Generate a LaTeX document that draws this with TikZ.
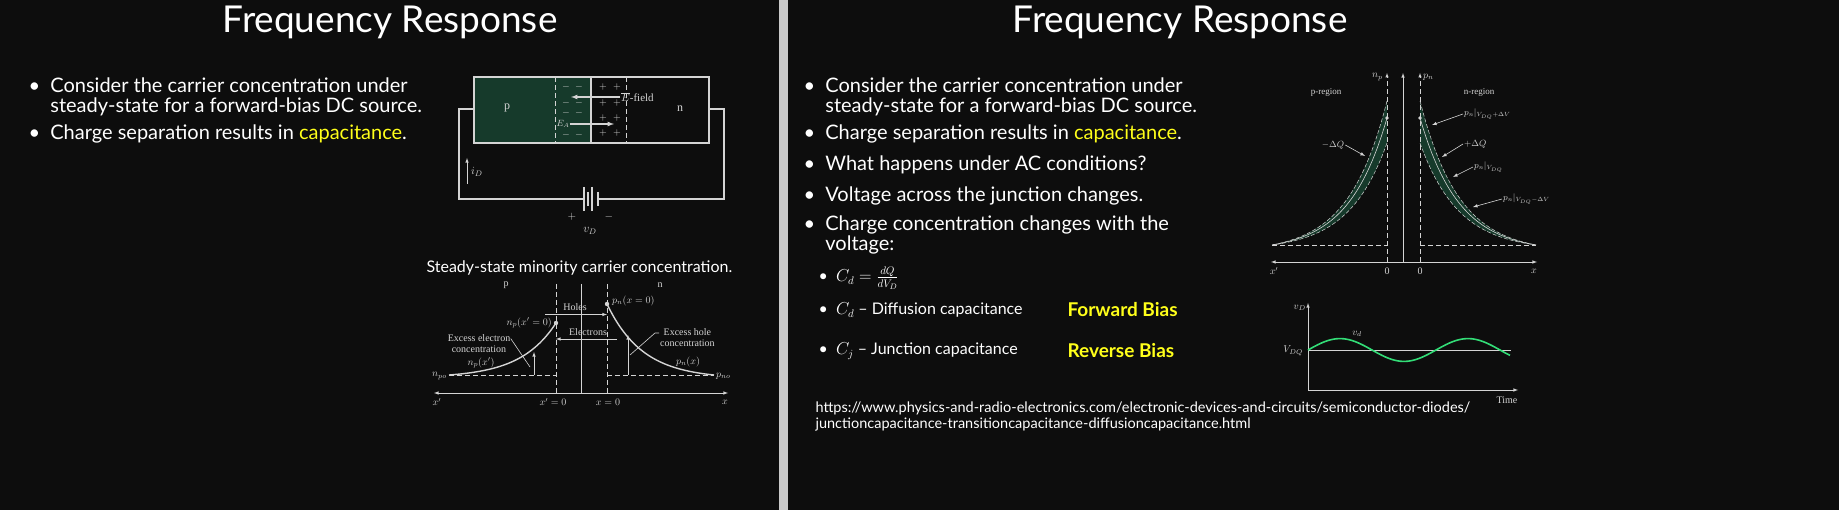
\documentclass[tikz,border=0pt]{standalone}
\usepackage{fontspec}
\setmainfont{Lato}
\newfontfamily\figfont{Liberation Serif}
\usepackage{amsmath}
\definecolor{slidebg}{HTML}{0D0D0D}
\definecolor{figline}{HTML}{D4D4D4}
\definecolor{pgreen}{HTML}{163A2B}
\definecolor{hilite}{HTML}{FFFF1A}
\definecolor{sinegreen}{HTML}{33DD77}
\tikzset{
  title/.style={text=white,font=\fontsize{37}{40}\selectfont},
  bullet/.style={text=white,anchor=west,align=left,font=\fontsize{20}{20}\selectfont},
  sub/.style={text=white,anchor=west,font=\fontsize{16}{18}\selectfont},
  lbl/.style={text=figline,font=\figfont\fontsize{10}{11}\selectfont,inner sep=1pt},
  wire/.style={draw=figline,line width=1.2pt},
  thin/.style={draw=figline,line width=0.6pt},
  dashln/.style={draw=figline,line width=0.7pt,dash pattern=on 5pt off 3pt},
  tip/.style={-latex},
}
\begin{document}
\begin{tikzpicture}[x=1pt,y=-1pt]
\fill[slidebg] (0,0) rectangle (1839,510);
\useasboundingbox (0,0) rectangle (1839,510);
\fill[figline!95!black] (779,0) rectangle (788,510);

% titles
\node[title] (titleL) at (390,22) {Frequency Response};
\node[title] (titleR) at (1180,22) {Frequency Response};

% left bullets
\node[bullet] (bL1) at (25,97) {\textbullet\ \ Consider the carrier concentration under\\\phantom{\textbullet\ \ }steady-state for a forward-bias DC source.};
\node[bullet] (bL2) at (25,134) {\textbullet\ \ Charge separation results in \textcolor{hilite}{capacitance}.};

% right bullets
\node[bullet] (bR1) at (800,97) {\textbullet\ \ Consider the carrier concentration under\\\phantom{\textbullet\ \ }steady-state for a forward-bias DC source.};
\node[bullet] (bR2) at (800,134) {\textbullet\ \ Charge separation results in \textcolor{hilite}{capacitance}.};
\node[bullet] (bR3) at (800,165) {\textbullet\ \ What happens under AC conditions?};
\node[bullet] (bR4) at (800,196) {\textbullet\ \ Voltage across the junction changes.};
\node[bullet] (bR5) at (800,235) {\textbullet\ \ Charge concentration changes with the\\\phantom{\textbullet\ \ }voltage:};
\node[sub] (sR1) at (815,278) {\textbullet\ \ $C_d=\frac{dQ}{dV_D}$};
\node[sub] (sR2) at (815,310) {\textbullet\ \ $C_d$ -- Diffusion capacitance};
\node[sub] (sR3) at (815,351) {\textbullet\ \ $C_j$ -- Junction capacitance};
\node[sub,text=hilite,font=\bfseries\fontsize{19}{21}\selectfont] (fwd) at (1064,310) {Forward Bias};
\node[sub,text=hilite,font=\bfseries\fontsize{19}{21}\selectfont] (rev) at (1064,351) {Reverse Bias};
\node[text=white,anchor=west,align=left,font=\fontsize{14.5}{16}\selectfont] (url) at (812,416)
  {https://www.physics-and-radio-electronics.com/electronic-devices-and-circuits/semiconductor-diodes/\\
   junctioncapacitance-transitioncapacitance-diffusioncapacitance.html};

% pn junction circuit
\fill[pgreen] (474,77) rectangle (591,143);
\draw[wire] (474,77) rectangle (709,143);
\draw[wire] (591,77) -- (591,143);
\draw[dashln,line width=0.6pt] (555,77) -- (555,143) (626,77) -- (626,143);
\foreach \yy in {87,103,113,135} {
  \node[lbl,inner sep=0pt] at (566,\yy) {$-$};
  \node[lbl,inner sep=0pt] at (579,\yy) {$-$};
}
\foreach \yy in {87,103,118,133} {
  \node[lbl,inner sep=0pt] at (603,\yy) {$+$};
  \node[lbl,inner sep=0pt] at (617,\yy) {$+$};
}
\node[lbl,font=\figfont\fontsize{12}{13}\selectfont] (pReg) at (507,108) {p};
\node[lbl,font=\figfont\fontsize{12}{13}\selectfont] (nReg) at (680,109) {n};
\node[lbl,anchor=west,font=\figfont\fontsize{11}{12}\selectfont] (efield) at (620,97) {$\overline{E}$-field};
\node[lbl,font=\figfont\fontsize{9}{10}\selectfont,inner sep=0pt] (EA) at (563,124) {$E_A$};
\draw[wire,tip] (efield.west) -- (571,97);
\draw[wire,tip] (EA.east) -- (614,124);
\coordinate (wL) at (474,109);
\coordinate (wR) at (709,109);
\draw[wire] (wL) -- (459,109) -- (459,199) -- (584,199);
\draw[wire] (598,199) -- (724,199) -- (724,109) -- (wR);
\draw[wire] (584,187) -- (584,211) (588,192) -- (588,206) (592,187) -- (592,211) (598,192) -- (598,206);
\coordinate (iA) at (467,184);
\coordinate (iB) at (467,158);
\draw[thin,tip] (iA) -- (iB);
\node[lbl,anchor=west,font=\figfont\fontsize{11}{12}\selectfont] (iD) at (470,172) {$i_D$};
\node[lbl,font=\figfont\fontsize{11}{12}\selectfont] (plus) at (572,217) {$+$};
\node[lbl,font=\figfont\fontsize{11}{12}\selectfont] (minus) at (609,217) {$-$};
\node[lbl,font=\figfont\fontsize{12}{13}\selectfont] (vD) at (590,231) {$v_D$};

% steady-state plot
\node[text=white,anchor=west,font=\fontsize{16}{18}\selectfont] (cap) at (423,268) {Steady-state minority carrier concentration.};
\node[lbl] at (506,285) {p};
\node[lbl] at (660,285) {n};
\draw[thin,latex-latex] (434,393) -- (728,393);
\draw[dashln,line width=0.6pt] (556,284) -- (556,393) (607,284) -- (607,393);
\draw[thin] (581,284) -- (581,393);
\draw[dashln,line width=0.6pt] (449,375) -- (556,375) (607,375) -- (714,375);
\draw[figline,line width=1.4pt] plot[domain=0:1,samples=40] ({556-107*\x},{375-52*(exp(-3*\x)-exp(-3))/(1-exp(-3))});
\draw[figline,line width=1.4pt] plot[domain=0:1,samples=40] ({607+107*\x},{375-71*(exp(-3*\x)-exp(-3))/(1-exp(-3))});
\fill[figline] (556,323) circle (2.2pt) (607,304) circle (2.2pt);
\draw[thin,tip] (545,314.5) -- (607,314.5);
\node[lbl] (holes) at (575,307) {Holes};
\draw[thin,tip] (617,339) -- (556,339);
\node[lbl] (elec) at (588,332) {Electrons};
\node[lbl,anchor=east] (np0) at (553,323) {$n_p(x'=0)$};
\node[lbl,anchor=west] (pn0) at (611,301) {$p_n(x=0)$};
\node[lbl,align=center] (exE) at (479,344) {Excess electron\\concentration};
\node[lbl,align=center,anchor=west] (exH) at (659,338) {Excess hole\\concentration};
\coordinate (eHit) at (530,367);
\coordinate (hHit) at (630,355);
\draw[thin] (exE.east |- 0,339) -- (511,339) -- (eHit);
\draw[thin] (exH.west |- 0,333) -- (655,333) -- (hHit);
\draw[thin,tip] (534,375) -- (534,352);
\draw[thin,tip] (628,375) -- (628,335);
\node[lbl] at (481,363) {$n_p(x')$};
\node[lbl] at (688,362) {$p_n(x)$};
\node[lbl,anchor=east] at (448,376) {$n_{po}$};
\node[lbl,anchor=west] at (715,376) {$p_{no}$};
\node[lbl] at (437,402) {$x'$};
\node[lbl] at (553,402) {$x'=0$};
\node[lbl] at (608,402) {$x=0$};
\node[lbl] at (725,402) {$x$};

% right: charge plot
\def\ex#1{(exp(-3*#1)-exp(-3))/(1-exp(-3))}
\fill[pgreen] plot[domain=0:1,samples=40] ({1420+116*\x},{245-144*\ex{\x}})
  -- plot[domain=1:0,samples=40] ({1420+116*\x},{245-102*\ex{\x}}) -- cycle;
\fill[pgreen] plot[domain=0:1,samples=40] ({1387-115*\x},{245-144*\ex{\x}})
  -- plot[domain=1:0,samples=40] ({1387-115*\x},{245-102*\ex{\x}}) -- cycle;
\foreach \aa in {144,102} {
  \draw[dashln,line width=0.5pt,dash pattern=on 4pt off 2pt] plot[domain=0:1,samples=40] ({1420+116*\x},{245-\aa*\ex{\x}});
  \draw[dashln,line width=0.5pt,dash pattern=on 4pt off 2pt] plot[domain=0:1,samples=40] ({1387-115*\x},{245-\aa*\ex{\x}});
}
\draw[figline,line width=0.6pt] plot[domain=0:1,samples=40] ({1420+116*\x},{245-127*\ex{\x}});
\draw[figline,line width=0.6pt] plot[domain=0:1,samples=40] ({1387-115*\x},{245-127*\ex{\x}});
\fill[figline] (1387,118) circle (1.8pt) (1420,118) circle (1.8pt);
\draw[thin,latex-latex] (1271,262) -- (1537,262);
\draw[dashln,line width=0.5pt,-latex] (1387,262) -- (1387,73);
\draw[dashln,line width=0.5pt,-latex] (1420,262) -- (1420,73);
\draw[thin,-latex] (1403,262) -- (1403,73);
\draw[dashln,line width=0.5pt] (1272,245) -- (1387,245) (1420,245) -- (1536,245);
\node[lbl,font=\figfont\fontsize{9}{10}\selectfont] at (1326,92) {p-region};
\node[lbl,font=\figfont\fontsize{9}{10}\selectfont] at (1479,92) {n-region};
\node[lbl,anchor=east] at (1384,77) {$n_p$};
\node[lbl,anchor=west] at (1422,77) {$p_n$};
\node[lbl] at (1387,271) {0};
\node[lbl] at (1420,271) {0};
\node[lbl] at (1274,271) {$x'$};
\node[lbl] at (1534,271) {$x$};
\node[lbl,font=\figfont\fontsize{9}{10}\selectfont] (dQm) at (1333,145) {$-\Delta Q$};
\node[lbl,font=\figfont\fontsize{9}{10}\selectfont,anchor=west] (pUp) at (1463,114) {$p_n|_{V_{DQ}+\Delta V}$};
\node[lbl,font=\figfont\fontsize{9}{10}\selectfont,anchor=west] (dQp) at (1463,144) {$+\Delta Q$};
\node[lbl,font=\figfont\fontsize{9}{10}\selectfont,anchor=west] (pMid) at (1473,167) {$p_n|_{V_{DQ}}$};
\node[lbl,font=\figfont\fontsize{9}{10}\selectfont,anchor=west] (pLo) at (1502,199) {$p_n|_{V_{DQ}-\Delta V}$};
\coordinate (hitA) at (1365,156);
\coordinate (hitB) at (1432,125);
\coordinate (hitC) at (1442,157);
\coordinate (hitD) at (1453,177);
\coordinate (hitE) at (1473,207);
\draw[thin,-latex] (dQm.east) -- (hitA);
\draw[thin,-latex] (pUp.west) -- (hitB);
\draw[thin,-latex] (dQp.west) -- (hitC);
\draw[thin,-latex] (pMid.west) -- (hitD);
\draw[thin,-latex] (pLo.west) -- (hitE);

% right: vD(t)
\draw[thin,-latex] (1308,390) -- (1308,303);
\draw[thin,-latex] (1308,390) -- (1518,390);
\draw[thin,line width=0.4pt] (1308,350) -- (1511,350);
\draw[sinegreen,line width=1.6pt] plot[domain=0:202,samples=80] ({1308+\x},{350-11.4*sin(\x/128*360)});
\node[lbl,anchor=east] at (1307,308) {$v_D$};
\node[lbl,anchor=east] at (1304,351) {$V_{DQ}$};
\node[lbl] at (1357,334) {$v_d$};
\node[lbl] at (1507,400) {Time};
\end{tikzpicture}
\end{document}
